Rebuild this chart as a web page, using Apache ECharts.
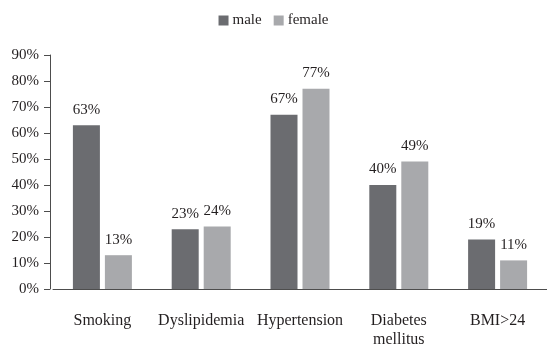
<!DOCTYPE html>
<html>
<head>
<meta charset="utf-8">
<script src="https://cdn.jsdelivr.net/npm/echarts@6/dist/echarts.min.js"></script>
<style>
  html, body { margin: 0; padding: 0; background: #fff; }
  #chart { width: 547px; height: 349px; }
</style>
</head>
<body>
<div id="chart"></div>
<script>
// Risk factor prevalence by sex (percent)
const categories = ['Smoking', 'Dyslipidemia', 'Hypertension', 'Diabetes\nmellitus', 'BMI>24'];
const maleValues = [63, 23, 67, 40, 19];
const femaleValues = [13, 24, 77, 49, 11];
const seriesNames = ['male', 'female'];

const FONT = '"Liberation Serif", "DejaVu Serif", serif';
const TEXT = '#231f20';

const chart = echarts.init(document.getElementById('chart'), null, { renderer: 'canvas' });

const labelStyle = {
  show: true,
  position: 'top',
  distance: 8,
  formatter: '{c}%',
  fontFamily: FONT,
  fontSize: 15,
  color: TEXT
};

chart.setOption({
  animation: false,
  backgroundColor: '#ffffff',
  textStyle: { fontFamily: FONT, color: TEXT },
  legend: {
    data: seriesNames,
    top: 8,
    left: 'center',
    itemWidth: 10,
    itemHeight: 10,
    itemGap: 12,
    icon: 'rect',
    textStyle: { fontFamily: FONT, fontSize: 15, color: TEXT, padding: [0, 0, 0, -1] }
  },
  grid: { left: 53, right: 0, top: 55, bottom: 56 },
  xAxis: {
    type: 'category',
    data: categories,
    axisLine: { show: true, lineStyle: { color: '#4d4d4d', width: 1 } },
    axisTick: { show: false },
    axisLabel: {
      interval: 0,
      margin: 22,
      fontFamily: FONT,
      fontSize: 16,
      lineHeight: 19,
      color: TEXT
    }
  },
  yAxis: {
    type: 'value',
    min: 0,
    max: 90,
    interval: 10,
    offset: 3,
    splitLine: { show: false },
    axisLine: { show: true, lineStyle: { color: '#4d4d4d', width: 1 } },
    axisTick: { show: true, length: 6, lineStyle: { color: '#4d4d4d' } },
    axisLabel: {
      formatter: '{value}%',
      margin: 11,
      fontFamily: FONT,
      fontSize: 15,
      color: TEXT
    }
  },
  series: [
    {
      name: seriesNames[0],
      type: 'bar',
      data: maleValues,
      barWidth: 27,
      barGap: '18.5%',
      itemStyle: { color: '#6b6c70' },
      label: labelStyle
    },
    {
      name: seriesNames[1],
      type: 'bar',
      data: femaleValues,
      barWidth: 27,
      itemStyle: { color: '#a8a9ac' },
      label: labelStyle
    }
  ]
});
</script>
</body>
</html>
